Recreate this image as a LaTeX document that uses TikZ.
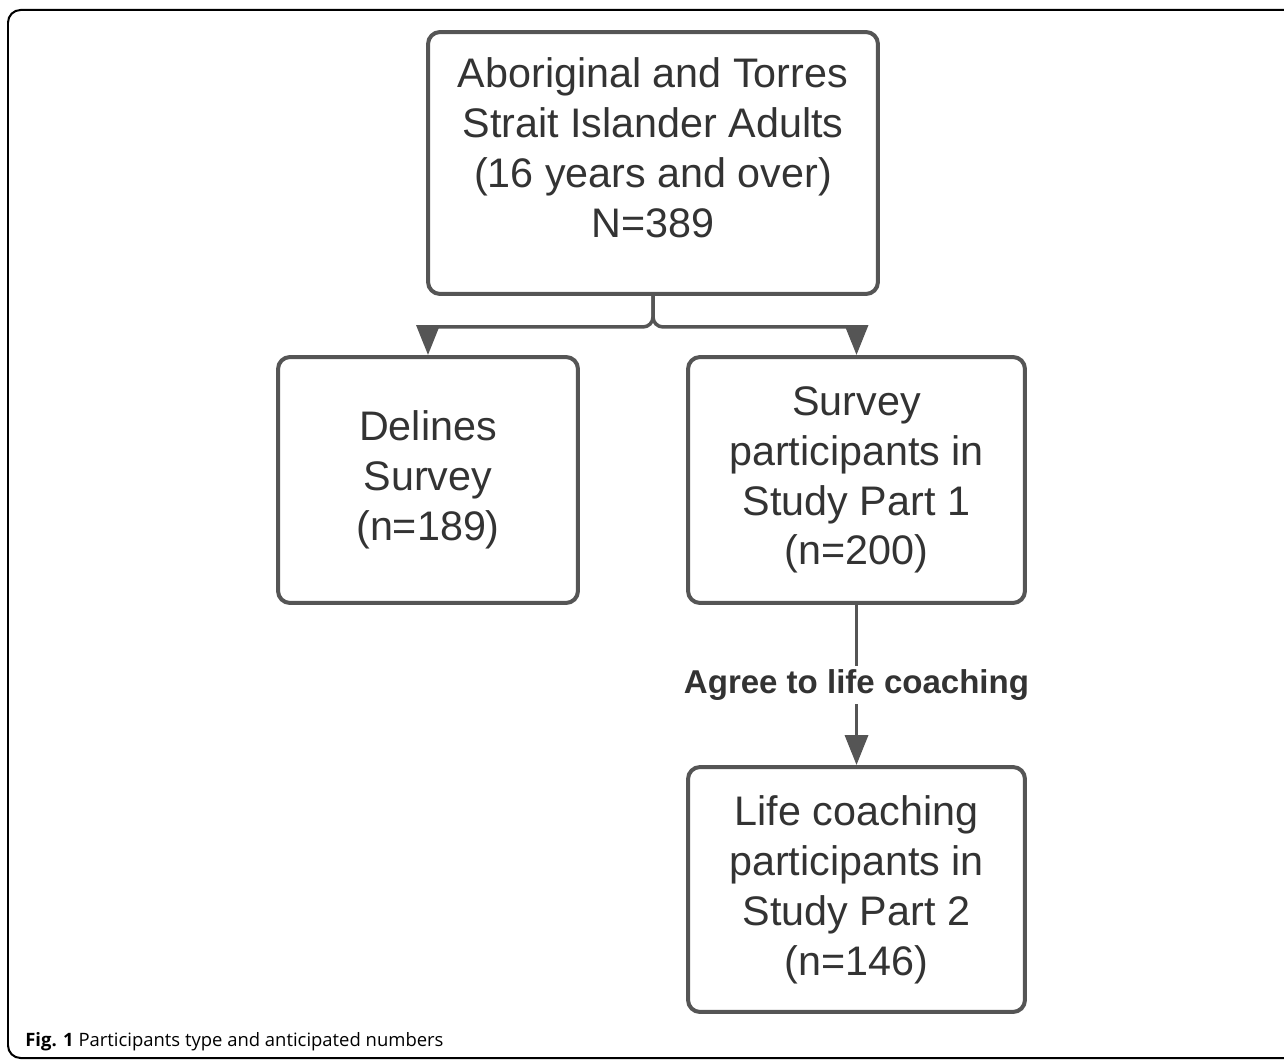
\documentclass[tikz,border=0pt]{standalone}
\usepackage{fontspec}
\setmainfont{Liberation Sans}
\newfontfamily\capfont{Open Sans}
\usetikzlibrary{arrows.meta,calc}

\definecolor{boxgrey}{HTML}{555555}
\definecolor{textgrey}{HTML}{333333}

\tikzset{
  stagebox/.style={draw=boxgrey, line width=0.08cm, rounded corners=0.24cm,
    align=center, text=textgrey, font=\fontsize{23.5}{28.4}\selectfont},
  link/.style={draw=boxgrey, line width=0.07cm,
    -{Triangle[length=0.6cm,width=0.46cm]}},
}

\begin{document}
\begin{tikzpicture}[x=0.02cm,y=-0.02cm]
  \useasboundingbox (0,0) rectangle (1284,1061);
  % outer frame
  \begin{scope}
    \clip (0,0) rectangle (1284,1061);
    \draw[line width=0.04cm,rounded corners=0.25cm] (8,10) rectangle (1300,1058);
  \end{scope}

  \node[stagebox, minimum width=9cm, minimum height=5.24cm] (adults) at (653,163)
    {Aboriginal and Torres\\Strait Islander Adults\\(16 years and over)\\N=389\\[-0.38cm]};
  \node[stagebox, minimum width=6cm, minimum height=4.92cm] (declines) at (428,480)
    {Delines\\Survey\\(n=189)};
  \node[stagebox, minimum width=6.74cm, minimum height=4.92cm] (part1) at (856.5,480)
    {Survey\\participants in\\Study Part 1\\(n=200)};
  \node[stagebox, minimum width=6.74cm, minimum height=4.9cm] (part2) at (856.5,889.5)
    {Life coaching\\participants in\\Study Part 2\\(n=146)};

  \coordinate (fork) at ($(adults.south)+(0,31)$);
  \draw[link] (adults.south) [rounded corners=0.2cm] -- (fork) [sharp corners] -| (declines.north);
  \draw[link] (adults.south) [rounded corners=0.2cm] -- (fork) [sharp corners] -| (part1.north);
  \draw[link] (part1.south) -- (part2.north)
    node[midway, fill=white, inner sep=2pt, text=textgrey, font=\fontsize{18.8}{22}\selectfont\bfseries] (agree) {Agree to life coaching};

  \node[anchor=base west, inner sep=0pt, font=\capfont\fontsize{10.5}{12}\selectfont] (caption) at (25,1046)
    {\textbf{Fig. 1} Participants type and anticipated numbers};
\end{tikzpicture}
\end{document}
